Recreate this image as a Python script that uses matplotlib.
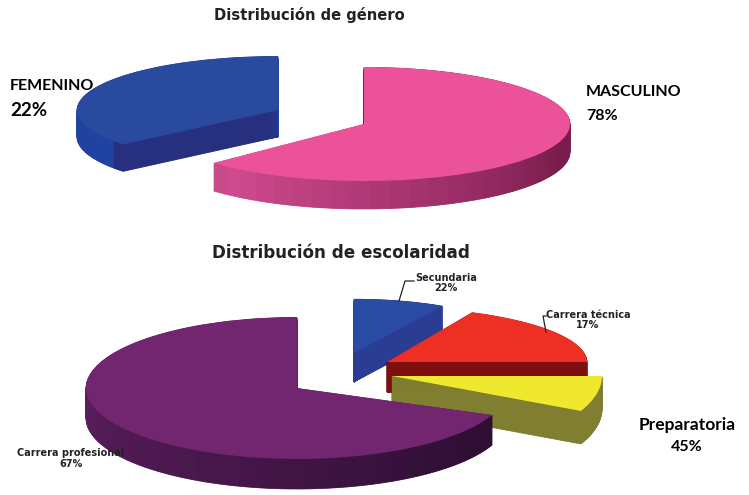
import matplotlib
matplotlib.use("Agg")
import matplotlib.pyplot as plt
import matplotlib.colors as mc
import numpy as np

W, H = 749, 495

# Visual share of the circle that each drawn slice occupies
gender_names = ["MASCULINO", "FEMENINO"]
gender_labels = ["78%", "22%"]
gender_shares = [63, 36]
school_names = ["Secundaria", "Carrera técnica", "Preparatoria", "Carrera profesional"]
school_labels = ["22%", "17%", "45%", "67%"]
school_shares = [8.2, 18, 7.2, 68.8]

fig = plt.figure(figsize=(W / 100, H / 100), dpi=100, facecolor="white")


def slice3d(share, start, ccw, cx, cy, rx, ry, depth, top, cut, side0, side1, hold=0.0, n=40):
    ax = fig.add_axes([0, 0, 1, 1], facecolor="none")
    clear = (0, 0, 0, 0)
    thin = min(share * 0.06, 1.2)
    body = share - thin
    parts = [body / n] * n + [thin]
    c0, c1 = np.array(mc.to_rgb(side0)), np.array(mc.to_rgb(side1))
    cols = []
    for i in range(n):
        t = max(0.0, (i / (n - 1) - hold) / (1 - hold))
        cols.append(tuple(c0 + (c1 - c0) * t))
    cols.append(cut)
    rest = 100 - sum(parts)
    for d in np.arange(depth, 0, -0.6):
        w, _ = ax.pie(parts + [rest], colors=cols + [clear], startangle=start,
                      counterclock=ccw, center=(0, -d / ry), radius=1,
                      wedgeprops=dict(linewidth=0.5))
        for p in w:
            p.set_edgecolor(p.get_facecolor())
        w[-1].set_visible(False)
    w, _ = ax.pie([share, 100 - share], colors=[top, clear], startangle=start,
                  counterclock=ccw, center=(0, 0), radius=1,
                  wedgeprops=dict(linewidth=0))
    w[-1].set_visible(False)
    ax.set_aspect("auto")
    ax.set_xlim(-cx / rx, (W - cx) / rx)
    ax.set_ylim(-(H - cy) / ry, cy / ry)
    ax.axis("off")


# gender chart
slice3d(gender_shares[1], 90, True, 278, 110, 201, 54, 27,
        "#2a4aa0", "#27307f", "#2042a0", "#2042a0")
slice3d(gender_shares[0], 90, False, 364, 124, 206, 57, 28,
        "#ec5299", "#c84a8a", "#7a1d4d", "#cf4a8e", hold=0.5)

# schooling chart
slice3d(school_shares[0], 90, False, 354, 353, 180, 54, 29,
        "#2a4ba3", "#2b3d92", "#2b3d92", "#2b3d92")
slice3d(school_shares[1], 0, True, 387, 362, 200, 55, 30,
        "#ee3024", "#7e0f0e", "#7e0f0e", "#7e0f0e")
slice3d(school_shares[2], 0, False, 392, 376, 210, 80, 33,
        "#efe82f", "#807e30", "#807e30", "#807e30")
slice3d(school_shares[3], 90, True, 297, 388, 211, 71, 30,
        "#72266f", "#2e0e33", "#5c1f5f", "#2e0e33", hold=0.35)

# overlay for text and leader lines
ov = fig.add_axes([0, 0, 1, 1], facecolor="none")
ov.set_xlim(0, W)
ov.set_ylim(H, 0)
ov.axis("off")

wide = dict(family="DejaVu Sans", fontweight="bold", color="#222222", ha="center", va="center")
big = dict(family="Lato", fontweight="bold", color="black", va="center")

ov.text(309, 15, "Distribución de género", fontsize=10.6, **wide)
ov.text(341, 253, "Distribución de escolaridad", fontsize=12.1, **wide)

ov.text(10, 86, gender_names[1], fontsize=11.5, ha="left", **big)
ov.text(10, 111, gender_labels[1], fontsize=13.5, ha="left", **big)
ov.text(586, 92, gender_names[0], fontsize=11.5, ha="left", **big)
ov.text(586, 116, gender_labels[0], fontsize=11.5, ha="left", **big)
ov.text(687, 425, school_names[2], fontsize=12.5, ha="center", **big)
ov.text(687, 447, school_labels[2], fontsize=11.5, ha="center", **big)

ov.text(446, 278, school_names[0], fontsize=7, **wide)
ov.text(446, 288, school_labels[0], fontsize=7, **wide)
ov.text(588, 315, school_names[1], fontsize=7, **wide)
ov.text(588, 325, school_labels[1], fontsize=7, **wide)
ov.text(71, 453, school_names[3], fontsize=7, **wide)
ov.text(71, 464, school_labels[3], fontsize=7, **wide)

ov.plot([399, 405, 414], [301, 281, 281], color="#222222", lw=0.9)
ov.plot([546, 543, 546], [332, 316, 316], color="#222222", lw=0.9)

fig.savefig("out.png", dpi=100, facecolor="white")
